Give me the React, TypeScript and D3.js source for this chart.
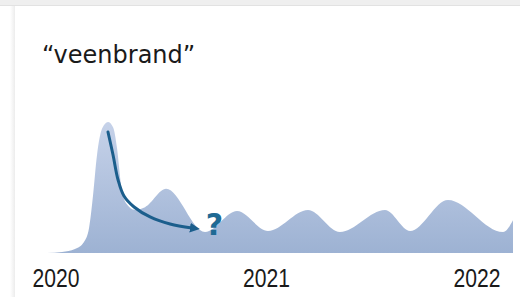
import React from "react";
import * as d3 from "d3";

// curve: time in years, relative height (main peak = 100)
const waveTimes = [
  2019.957, 2020.029, 2020.09, 2020.133, 2020.157, 2020.176, 2020.195, 2020.219,
  2020.247, 2020.271, 2020.29, 2020.309, 2020.333, 2020.375, 2020.423,
  2020.523, 2020.708, 2020.86, 2021.007, 2021.197, 2021.349, 2021.563, 2021.682,
  2021.862, 2022.124, 2022.171,
];
const waveValues = [
  0, 0.8, 3, 8.4, 19, 44, 75, 95,
  100, 96, 80, 52, 38, 33, 35,
  49, 16, 32, 16.8, 32.8, 16, 32.8, 16.8,
  40.5, 16, 25,
];

// annotation arrow from the first peak down into the dip
const arrowTimes = [2020.247, 2020.271, 2020.295, 2020.323, 2020.371, 2020.447, 2020.542, 2020.646];
const arrowValues = [92.4, 74.8, 55.7, 43.5, 35.1, 27.5, 22.1, 19.1];

const yearTicks = [2020, 2021, 2022];
const title = "\u201Cveenbrand\u201D";

const width = 520;
const height = 297;

const x = d3.scaleLinear().domain([2020, 2022]).range([56, 477]);
const y = d3.scaleLinear().domain([0, 100]).range([253, 122]);

const App = () => {
  const wave = waveTimes.map((t, i) => ({ t, v: waveValues[i] }));
  const arrow = arrowTimes.map((t, i) => ({ t, v: arrowValues[i] }));

  const area = d3
    .area<{ t: number; v: number }>()
    .x((d) => x(d.t))
    .y0(y(0))
    .y1((d) => y(d.v))
    .curve(d3.curveMonotoneX);

  const arrowLine = d3
    .line<{ t: number; v: number }>()
    .x((d) => x(d.t))
    .y((d) => y(d.v))
    .curve(d3.curveCatmullRom.alpha(0.5));

  return (
    <svg
      width={width}
      height={height}
      style={{ position: "absolute", left: 0, top: 0, background: "#fff" }}
    >
      <defs>
        <linearGradient id="waveFill" x1="0" y1="0" x2="0" y2="1">
          <stop offset="0" stopColor="#c6d2e9" />
          <stop offset="1" stopColor="#9db2d3" />
        </linearGradient>
        <marker
          id="head"
          viewBox="0 0 10 10"
          refX="2"
          refY="5"
          markerWidth="3.3"
          markerHeight="3.3"
          orient="auto"
        >
          <path d="M0,0 L10,5 L0,10 z" fill="#1b5e8c" />
        </marker>
        <linearGradient id="edge" x1="0" y1="0" x2="1" y2="0">
          <stop offset="0" stopColor="#ffffff" />
          <stop offset="1" stopColor="#ececec" />
        </linearGradient>
      </defs>

      {/* screenshot frame */}
      <rect x={0} y={0} width={width} height={6} fill="#efefef" />
      <line x1={0} x2={width} y1={5.5} y2={5.5} stroke="#e2e2e2" />
      <rect x={10} y={6} width={5} height={height - 6} fill="url(#edge)" />

      <text
        x={42}
        y={63}
        fontFamily="DejaVu Sans, Verdana, sans-serif"
        fontSize={24}
        fill="#1a1a1a"
      >
        {title}
      </text>

      <path d={area(wave) ?? ""} fill="url(#waveFill)" />

      <path
        d={arrowLine(arrow) ?? ""}
        fill="none"
        stroke="#1b5e8c"
        strokeWidth={3}
        strokeLinecap="round"
        markerEnd="url(#head)"
      />
      <text
        x={x(2020.711)}
        y={y(13.7)}
        fontFamily="DejaVu Sans, sans-serif"
        fontWeight="bold"
        fontSize={30}
        fill="#1f6a94"
      >
        ?
      </text>

      {yearTicks.map((yr) => (
        <text
          key={yr}
          x={x(yr)}
          y={287}
          textAnchor="middle"
          fontFamily="Liberation Sans Narrow, Liberation Sans, Arial, sans-serif"
          fontSize={25}
          textLength={47}
          lengthAdjust="spacingAndGlyphs"
          fill="#1a1a1a"
        >
          {yr}
        </text>
      ))}
    </svg>
  );
};

export default App;
